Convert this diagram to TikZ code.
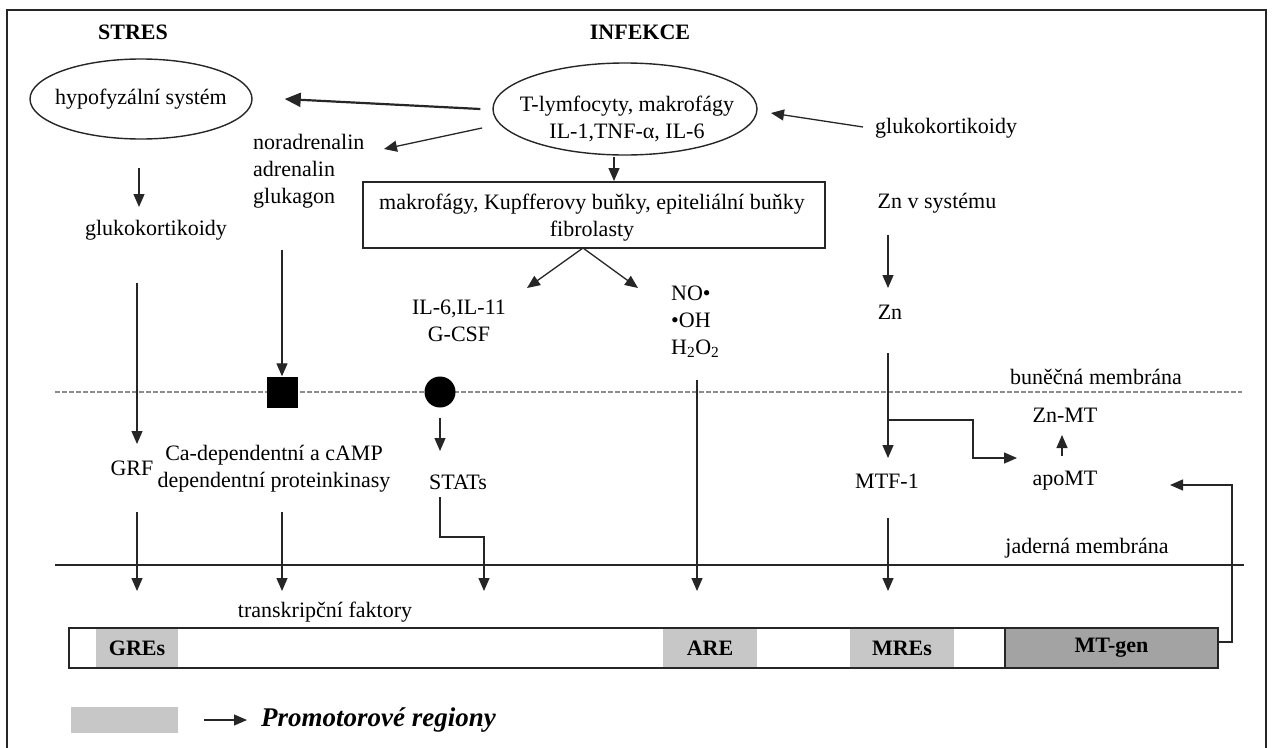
\documentclass[tikz,border=0pt]{standalone}
\usepackage{fontspec}
\setmainfont{Liberation Serif}
\usetikzlibrary{arrows.meta,shapes.geometric}
\begin{document}
\begin{tikzpicture}[x=1pt,y=-1pt]
\tikzset{
  txt/.style={font=\fontsize{22}{27}\selectfont, inner sep=0pt, align=center},
  btxt/.style={font=\fontsize{22}{27}\selectfont\bfseries, inner sep=0pt},
  arr/.style={-{Triangle[length=13pt,width=11pt]}, line width=1.3pt, draw=black!85},
  ell/.style={ellipse, draw=black!85, line width=1.4pt, inner sep=0pt},
  promo/.style={fill=black!22, draw=none, inner sep=0pt, font=\fontsize{22}{27}\selectfont\bfseries},
}
\useasboundingbox (0,0) rectangle (1273,747);
\draw[line width=1.5pt, draw=black!85] (7,760) -- (7,10) -- (1266,10) -- (1266,760);

% headings
\node[btxt] (stres) at (133,32) {STRES};
\node[btxt] (infekce) at (640,32) {INFEKCE};

% ellipses
\node[ell, minimum width=222, minimum height=80] (hypo) at (141,99) {};
\node[txt] (hypot) at (141,99) {hypofyzální systém};
\node[ell, minimum width=264, minimum height=92] (tly) at (625,109) {};
\node[txt] (tlyt) at (627,119) {T-lymfocyty, makrofágy\\IL-1,TNF-α, IL-6};

\node[txt, anchor=west] (gkr) at (875,128) {glukokortikoidy};
\node[txt, anchor=west, align=left] (nor) at (253,171) {noradrenalin\\adrenalin\\glukagon};
\node[draw=black!85, line width=1.4pt, minimum width=462, minimum height=66, inner sep=0pt] (box) at (594,215) {};
\node[txt] (boxt) at (592,218) {makrofágy, Kupfferovy buňky, epiteliální buňky\\fibrolasty};
\node[txt] (gk) at (156,230) {glukokortikoidy};
\node[txt] (znsys) at (937,203) {Zn v systému};
\node[txt] (zn) at (890,312) {Zn};
\node[txt] (il) at (459,321) {IL-6,IL-11\\G-CSF};
\node[txt, anchor=west, align=left] (no) at (671,322) {NO•\\•OH\\H\textsubscript{2}O\textsubscript{2}};

% membranes
\draw[draw=black!45, line width=1.3pt, dash pattern=on 5pt off 2pt] (55,392) -- (1242,392);
\node[txt] (bm) at (1096,377) {buněčná membrána};
\draw[draw=black!85, line width=1.3pt] (55,565) -- (1244,565);
\node[txt] (jm) at (1087,548) {jaderná membrána};

\node[fill=black, minimum size=31, inner sep=0pt] (sq) at (282,392) {};
\node[circle, fill=black, minimum size=31, inner sep=0pt] (ci) at (440,392) {};

\node[txt] (grf) at (132,468) {GRF};
\node[txt] (ca) at (274,469) {Ca-dependentní a cAMP\\dependentní proteinkinasy};
\node[txt] (stats) at (458,482) {STATs};
\node[txt] (mtf) at (887,481) {MTF-1};
\node[txt] (znmt) at (1065,415) {Zn-MT};
\node[txt] (apo) at (1065,481) {apoMT};
\node[txt] (tf) at (325,612) {transkripční faktory};

% gene bar
\node[draw=none, minimum width=1149, minimum height=40, inner sep=0pt] (bar) at (643.5,648) {};
\node[promo, minimum width=82, minimum height=38] (gre) at (137,648) {GREs};
\node[promo, minimum width=94, minimum height=38] (are) at (710,648) {ARE};
\node[promo, minimum width=104, minimum height=38] (mre) at (902,648) {MREs};
\node[promo, fill=black!36, draw=black!85, line width=1.4pt, minimum width=213, minimum height=40] (mtg) at (1111.5,648) {MT-gen};
\draw[draw=black!85, line width=1.5pt] (bar.north west) rectangle (bar.south east);

% legend
\node[promo, minimum width=107, minimum height=26] (leg) at (124.5,720) {};
\coordinate (lega) at (204,720);
\node[anchor=west, inner sep=0pt, font=\fontsize{27}{30}\selectfont\bfseries\itshape] (legt) at (261,720) {Promotorové regiony};
\draw[arr] (lega) -- ([xshift=-14]legt.west);

% arrows
\draw[arr, line width=2.2pt, -{Triangle[length=16pt,width=14pt]}] ([xshift=-12]tly.west) -- ([xshift=32]hypo.east);
\coordinate (t1) at (482,128); \coordinate (n1) at (384,149);
\draw[arr] (t1) -- (n1);
\coordinate (g1) at (863,127); \coordinate (g2) at (771,113);
\draw[arr] (g1) -- (g2);
\draw[arr] (614,157) -- (614,181);
\draw[arr] (139,168) -- (139,207);
\coordinate (bx) at (583,248);
\coordinate (b1) at (527,288); \coordinate (b2) at (638,288);
\draw[arr] (bx) -- (b1);
\draw[arr] (bx) -- (b2);
\draw[arr] (888,235) -- (888,288);
\draw[arr] (282,250) -- (sq.north);
\draw[arr] (137,283) -- (137,444);
\draw[arr] (440,418) -- (440,451);
\draw[arr] (888,353) -- (888,458);
\draw[arr] (888,420) -- (973,420) -- (973,458) -- (1017,458);
\draw[arr] (1062,456) -- (1062,435);
\draw[arr] (mtg.east |- 0,642) -- (1232,642) -- (1232,485) -- (1170,485);
\draw[arr] (137,512) -- (137,591);
\draw[arr] (282,512) -- (282,591);
\draw[arr] (440,497) -- (440,537) -- (484,537) -- (484,591);
\draw[arr] (697,380) -- (697,591);
\draw[arr] (888,518) -- (888,591);
\end{tikzpicture}
\end{document}
